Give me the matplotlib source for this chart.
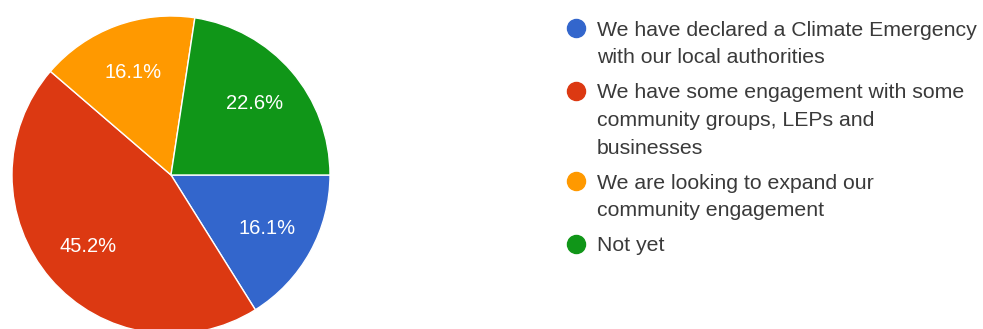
import matplotlib
matplotlib.use("Agg")
import matplotlib.pyplot as plt

# Survey responses: climate emergency engagement
labels = [
    "We have declared a Climate Emergency\nwith our local authorities",
    "We have some engagement with some\ncommunity groups, LEPs and\nbusinesses",
    "We are looking to expand our\ncommunity engagement",
    "Not yet",
]
shares = [16.1, 45.2, 16.1, 22.6]
colors = ["#3366CC", "#DC3912", "#FF9900", "#109618"]

W, H = 983, 329
plt.rcParams["font.family"] = ["Liberation Sans", "DejaVu Sans"]

fig = plt.figure(figsize=(W / 100, H / 100), dpi=100)

# pie centred at (171, 175) px from top-left, radius 159 px
cx, cy, r = 171, 175, 159
ax = fig.add_axes([(cx - r) / W, (H - cy - r) / H, 2 * r / W, 2 * r / H])
wedges, _, autotexts = ax.pie(
    shares, colors=colors, startangle=0, counterclock=False,
    autopct=lambda p: f"{p:.1f}%", pctdistance=0.69,
    wedgeprops=dict(edgecolor="white", linewidth=1),
    textprops=dict(color="white", fontsize=14.5),
)
ax.set_xlim(-1, 1)
ax.set_ylim(-1, 1)
ax.set_aspect("equal")
ax.axis("off")

# legend drawn by hand so the marker sits on the first line of each entry
line_h = 27.8
item_gap = 7
y = 28
for lab, col in zip(labels, colors):
    fig.lines.append(plt.Line2D([576 / W], [1 - y / H], marker="o", markersize=13,
                                color=col, transform=fig.transFigure))
    for line in lab.split("\n"):
        fig.text(597 / W, 1 - y / H, line, fontsize=15.3, color="#3a3a3a",
                 va="center_baseline", ha="left")
        y += line_h
    y += item_gap

fig.savefig("out.png", dpi=100, facecolor="white")
